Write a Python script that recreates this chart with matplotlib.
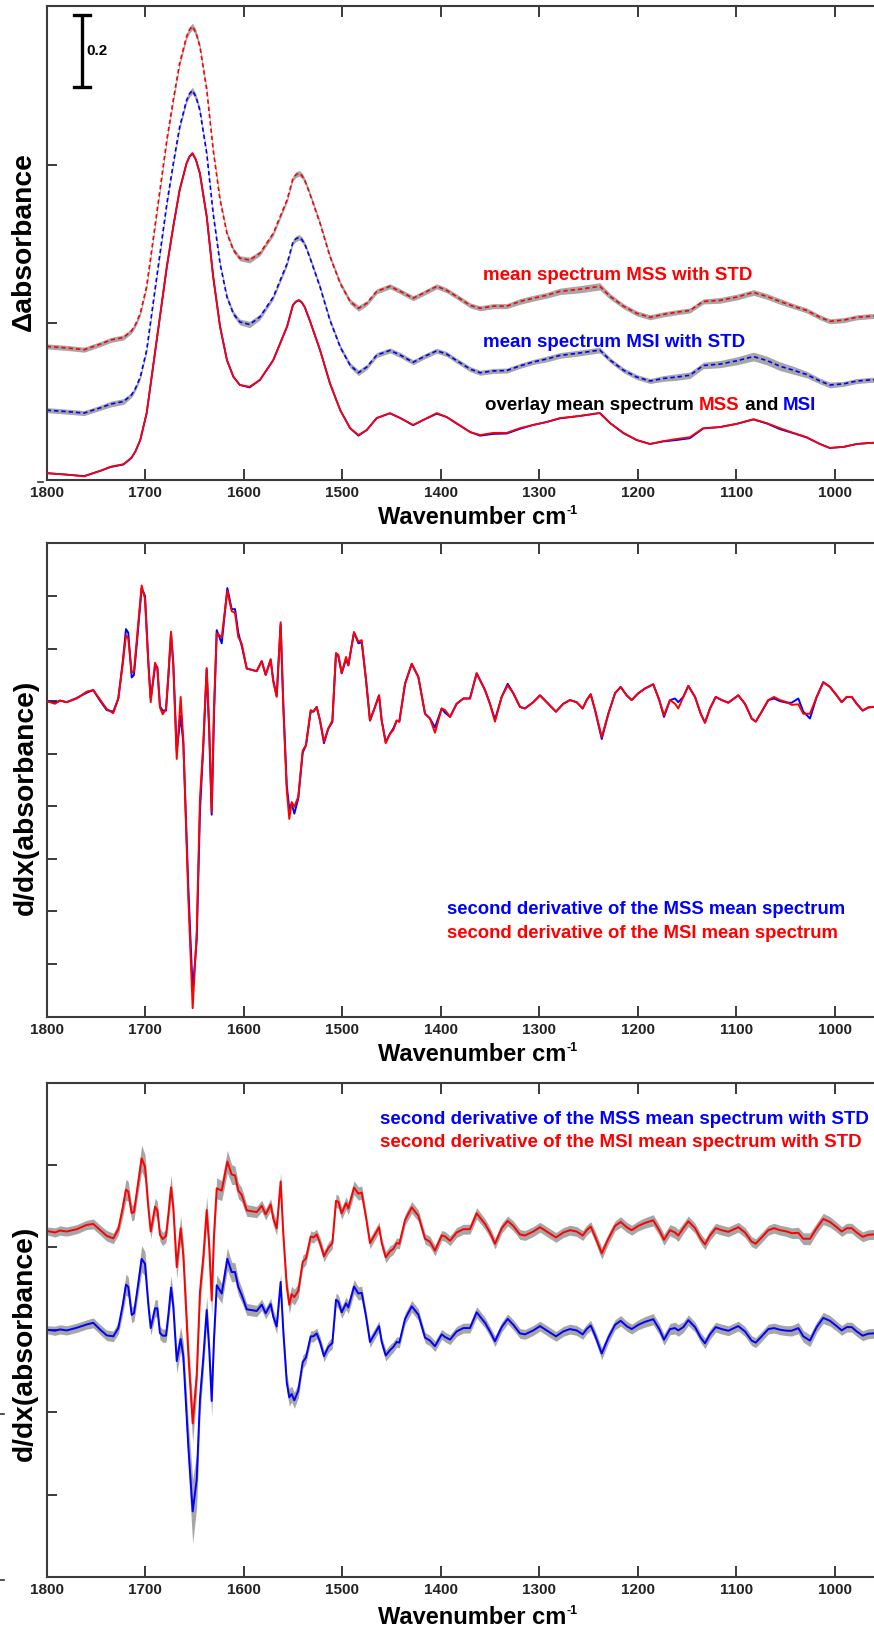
import numpy as np
import matplotlib
matplotlib.use("Agg")
import matplotlib.pyplot as plt
from matplotlib import transforms
from matplotlib.lines import Line2D

plt.rcParams['font.family'] = ['Liberation Sans', 'DejaVu Sans']
plt.rcParams['font.weight'] = 'bold'

# ---------------- data: panel 1 (absorbance) ----------------
wn_abs = [1800, 1780, 1762, 1745, 1735, 1722, 1714, 1710, 1705, 1698.5,
          1692, 1685, 1678, 1671.5, 1665, 1658, 1655, 1652, 1648.5, 1644.5,
          1637.5, 1631, 1624, 1617, 1610.5, 1604, 1594, 1583.5, 1570, 1556,
          1550, 1547, 1544, 1541, 1538, 1533, 1522.5, 1512.5, 1502, 1492,
          1483.5, 1475, 1465, 1451.5, 1441, 1428, 1417.5, 1404, 1394, 1384,
          1370, 1360, 1346.5, 1333, 1319.5, 1306, 1292.5, 1279, 1258.5, 1238.5,
          1228, 1214.5, 1201, 1187.5, 1174, 1160.5, 1147, 1133.5, 1116.5, 1099.5,
          1082.5, 1069, 1055.5, 1042, 1028.5, 1015, 1005, 991, 977.5, 964,
          955]
abs_mss = [0.019, 0.015, 0.010, 0.026, 0.037, 0.044, 0.062, 0.079, 0.111, 0.186,
           0.315, 0.454, 0.593, 0.704, 0.806, 0.880, 0.899, 0.908, 0.890, 0.852,
           0.731, 0.565, 0.426, 0.333, 0.287, 0.264, 0.259, 0.278, 0.333, 0.426,
           0.486, 0.496, 0.500, 0.494, 0.480, 0.444, 0.361, 0.269, 0.194, 0.144,
           0.125, 0.139, 0.172, 0.186, 0.172, 0.153, 0.167, 0.186, 0.175, 0.158,
           0.133, 0.125, 0.131, 0.131, 0.144, 0.153, 0.161, 0.172, 0.178, 0.186,
           0.158, 0.131, 0.111, 0.100, 0.108, 0.114, 0.119, 0.144, 0.147, 0.156,
           0.169, 0.158, 0.144, 0.131, 0.119, 0.100, 0.089, 0.092, 0.100, 0.103,
           0.104]
abs_msi = [0.019, 0.015, 0.011, 0.026, 0.036, 0.043, 0.061, 0.079, 0.111, 0.186,
           0.315, 0.454, 0.593, 0.704, 0.806, 0.880, 0.898, 0.907, 0.889, 0.852,
           0.731, 0.565, 0.426, 0.333, 0.287, 0.264, 0.257, 0.278, 0.333, 0.426,
           0.486, 0.495, 0.499, 0.493, 0.480, 0.444, 0.361, 0.269, 0.194, 0.144,
           0.123, 0.139, 0.172, 0.185, 0.172, 0.152, 0.167, 0.184, 0.175, 0.157,
           0.133, 0.123, 0.128, 0.129, 0.142, 0.153, 0.161, 0.171, 0.178, 0.186,
           0.158, 0.130, 0.111, 0.100, 0.107, 0.111, 0.116, 0.143, 0.147, 0.156,
           0.168, 0.157, 0.141, 0.130, 0.118, 0.100, 0.089, 0.092, 0.100, 0.103,
           0.104]
std_abs_mss = [0.007, 0.007, 0.007, 0.007, 0.007, 0.007, 0.007, 0.007, 0.007, 0.007,
               0.007, 0.007, 0.007, 0.008, 0.008, 0.008, 0.009, 0.009, 0.009, 0.008,
               0.008, 0.007, 0.007, 0.007, 0.007, 0.007, 0.008, 0.007, 0.007, 0.007,
               0.007, 0.008, 0.008, 0.008, 0.007, 0.007, 0.007, 0.007, 0.007, 0.007,
               0.008, 0.007, 0.007, 0.007, 0.007, 0.007, 0.007, 0.007, 0.007, 0.007,
               0.007, 0.007, 0.007, 0.007, 0.008, 0.008, 0.008, 0.009, 0.010, 0.010,
               0.008, 0.007, 0.007, 0.007, 0.007, 0.007, 0.007, 0.007, 0.008, 0.008,
               0.008, 0.008, 0.008, 0.007, 0.007, 0.007, 0.007, 0.007, 0.007, 0.007,
               0.007]
std_abs_msi = [0.007, 0.007, 0.007, 0.007, 0.008, 0.008, 0.007, 0.007, 0.007, 0.007,
               0.007, 0.007, 0.007, 0.007, 0.008, 0.008, 0.009, 0.009, 0.009, 0.008,
               0.008, 0.007, 0.007, 0.007, 0.008, 0.008, 0.009, 0.008, 0.007, 0.007,
               0.007, 0.008, 0.008, 0.008, 0.007, 0.007, 0.007, 0.007, 0.007, 0.007,
               0.008, 0.007, 0.007, 0.007, 0.007, 0.007, 0.007, 0.007, 0.007, 0.007,
               0.007, 0.007, 0.007, 0.007, 0.007, 0.007, 0.008, 0.008, 0.008, 0.008,
               0.007, 0.007, 0.007, 0.007, 0.008, 0.009, 0.009, 0.009, 0.010, 0.011,
               0.012, 0.012, 0.012, 0.011, 0.009, 0.008, 0.008, 0.007, 0.007, 0.007,
               0.007]
offset_mss = 0.352
offset_msi = 0.175

# ---------------- data: second derivative (panels 2 and 3) ----------------
wn_d2 = [1800, 1791.6, 1786.5, 1779.7, 1769.5, 1759.4, 1752.7, 1745.9, 1739.1, 1732.4,
         1727.3, 1722.8, 1719.5, 1717.2, 1713.7, 1711.4, 1708.0, 1703.6, 1700.2, 1696.8,
         1694.4, 1690.0, 1687.7, 1685.0, 1682.2, 1678.9, 1676.5, 1673.8, 1671.5, 1668.0,
         1664.0, 1661.3, 1656.2, 1651.8, 1647.7, 1644.4, 1641.0, 1637.6, 1635.0, 1632.5,
         1630.2, 1627.4, 1622.3, 1616.6, 1612.2, 1608.8, 1605.5, 1602.0, 1596.9, 1586.8,
         1581.7, 1577.7, 1572.6, 1570.0, 1566.5, 1562.5, 1559.8, 1556.3, 1553.7, 1551.3,
         1548.6, 1544.6, 1540.1, 1536.8, 1532.0, 1529.3, 1525.9, 1522.5, 1518.5, 1514.1,
         1510.0, 1506.3, 1503.9, 1500.5, 1496.1, 1493.8, 1488.0, 1483.6, 1480.2, 1475.8,
         1471.8, 1466.7, 1462.6, 1459.9, 1455.8, 1451.5, 1448.1, 1444.7, 1442.0, 1436.2,
         1429.4, 1422.7, 1415.9, 1410.9, 1405.8, 1399.0, 1395.6, 1390.5, 1383.8, 1377.0,
         1370.3, 1363.5, 1355.0, 1350.0, 1344.9, 1338.1, 1332.0, 1326.3, 1319.5, 1314.4,
         1306.0, 1299.2, 1292.4, 1283.0, 1275.5, 1268.8, 1262.0, 1255.8, 1251.8, 1247.7,
         1243.3, 1236.5, 1229.8, 1223.0, 1217.3, 1211.2, 1206.1, 1199.4, 1192.6, 1184.2,
         1178.1, 1173.3, 1167.2, 1162.1, 1158.8, 1153.7, 1148.6, 1141.8, 1136.0, 1131.7,
         1126.6, 1120.8, 1114.7, 1108.0, 1097.9, 1091.1, 1084.3, 1080.2, 1074.1, 1067.4,
         1061.6, 1055.5, 1048.7, 1043.7, 1036.9, 1031.9, 1025.1, 1018.3, 1011.6, 1004.8,
         998.0, 992.9, 987.8, 982.7, 977.7, 971.6, 965.9, 960.8, 955.0]
# red curve: second derivative of the MSI mean spectrum
d2_msi = [0.00, -0.05, 0.01, -0.02, 0.05, 0.18, 0.21, 0.03, -0.15, -0.23,
          0.05, 0.70, 1.25, 1.19, 0.54, 0.57, 1.29, 2.20, 1.94, 0.70,
          -0.02, 0.73, 0.63, -0.12, -0.25, -0.15, 0.50, 1.32, 0.70, -1.10,
          0.08, -0.74, -3.75, -5.84, -4.40, -1.85, -0.80, 0.63, -0.48, -2.11,
          -0.15, 1.29, 1.22, 2.10, 1.71, 1.68, 1.22, 1.09, 0.62, 0.57,
          0.76, 0.50, 0.80, 0.37, 0.08, 1.50, -0.11, -1.69, -2.24, -1.92,
          -2.01, -1.82, -0.94, -0.84, -0.17, -0.20, -0.11, -0.37, -0.77, -0.52,
          -0.37, 0.91, 0.88, 0.53, 0.84, 0.68, 1.31, 1.13, 1.16, 0.40,
          -0.37, -0.11, 0.11, -0.37, -0.80, -0.62, -0.55, -0.37, -0.39, 0.33,
          0.71, 0.46, -0.24, -0.33, -0.60, -0.14, -0.17, -0.30, -0.05, 0.05,
          0.05, 0.53, 0.21, -0.05, -0.39, 0.08, 0.30, 0.15, -0.11, -0.14,
          -0.02, 0.11, -0.02, -0.20, -0.05, 0.02, -0.02, -0.14, 0.02, 0.13,
          -0.17, -0.68, -0.24, 0.15, 0.27, 0.11, 0.02, 0.15, 0.24, 0.32,
          0.02, -0.27, 0.02, -0.05, -0.14, 0.08, 0.29, 0.08, -0.24, -0.41,
          -0.14, 0.08, 0.02, -0.03, 0.11, -0.05, -0.33, -0.39, -0.20, 0.02,
          0.08, 0.02, -0.02, -0.07, -0.06, -0.24, -0.24, 0.08, 0.36, 0.27,
          0.11, -0.02, 0.08, 0.08, -0.05, -0.18, -0.12, -0.11, -0.10]
# blue curve: second derivative of the MSS mean spectrum
d2_mss = [0.00, -0.03, 0.01, -0.02, 0.06, 0.16, 0.21, 0.01, -0.17, -0.20,
          0.05, 0.75, 1.37, 1.30, 0.45, 0.50, 1.20, 2.15, 2.00, 0.75,
          0.05, 0.65, 0.65, -0.10, -0.18, -0.18, 0.45, 1.28, 0.72, -0.95,
          -0.28, -0.80, -3.55, -5.51, -4.55, -2.10, -0.85, 0.60, -0.60, -2.16,
          -0.30, 1.35, 1.10, 2.15, 1.75, 1.75, 1.30, 1.05, 0.62, 0.57,
          0.76, 0.50, 0.78, 0.40, 0.10, 1.45, -0.05, -1.60, -2.05, -1.95,
          -2.14, -1.85, -0.98, -0.84, -0.20, -0.20, -0.11, -0.37, -0.80, -0.52,
          -0.40, 0.91, 0.85, 0.53, 0.80, 0.68, 1.31, 1.10, 1.12, 0.40,
          -0.37, -0.11, 0.11, -0.37, -0.78, -0.62, -0.52, -0.37, -0.39, 0.33,
          0.71, 0.46, -0.24, -0.33, -0.50, -0.14, -0.22, -0.30, -0.05, 0.05,
          0.05, 0.53, 0.21, -0.05, -0.35, 0.08, 0.33, 0.15, -0.11, -0.14,
          -0.02, 0.11, -0.02, -0.20, -0.05, 0.02, -0.02, -0.14, 0.02, 0.13,
          -0.17, -0.72, -0.24, 0.15, 0.27, 0.11, 0.02, 0.15, 0.24, 0.32,
          0.02, -0.30, 0.02, 0.05, -0.02, 0.08, 0.29, 0.08, -0.24, -0.41,
          -0.14, 0.08, 0.02, -0.03, 0.11, -0.05, -0.33, -0.39, -0.20, 0.02,
          0.05, 0.00, -0.03, -0.03, 0.05, -0.20, -0.33, 0.08, 0.36, 0.27,
          0.11, -0.02, 0.08, 0.08, -0.05, -0.18, -0.12, -0.11, -0.10]
std_d2_mss = [0.12, 0.14, 0.14, 0.14, 0.14, 0.14, 0.15, 0.15, 0.16, 0.16,
              0.18, 0.27, 0.32, 0.30, 0.24, 0.24, 0.30, 0.40, 0.37, 0.27,
              0.22, 0.26, 0.26, 0.20, 0.20, 0.20, 0.27, 0.37, 0.32, 0.37,
              0.37, 0.42, 0.72, 0.97, 0.82, 0.52, 0.42, 0.42, 0.42, 0.47,
              0.37, 0.32, 0.30, 0.34, 0.30, 0.28, 0.24, 0.22, 0.18, 0.17,
              0.17, 0.17, 0.18, 0.20, 0.22, 0.27, 0.27, 0.27, 0.27, 0.24,
              0.24, 0.22, 0.20, 0.18, 0.17, 0.17, 0.16, 0.16, 0.17, 0.17,
              0.17, 0.20, 0.20, 0.18, 0.19, 0.19, 0.21, 0.20, 0.20, 0.18,
              0.17, 0.16, 0.16, 0.16, 0.17, 0.17, 0.16, 0.16, 0.16, 0.17,
              0.18, 0.17, 0.16, 0.16, 0.16, 0.15, 0.15, 0.15, 0.15, 0.15,
              0.15, 0.17, 0.16, 0.15, 0.16, 0.15, 0.15, 0.15, 0.15, 0.15,
              0.15, 0.15, 0.15, 0.15, 0.15, 0.15, 0.15, 0.15, 0.15, 0.15,
              0.16, 0.18, 0.16, 0.15, 0.16, 0.15, 0.15, 0.15, 0.16, 0.17,
              0.16, 0.17, 0.17, 0.18, 0.18, 0.16, 0.16, 0.15, 0.15, 0.16,
              0.15, 0.15, 0.15, 0.15, 0.15, 0.15, 0.15, 0.15, 0.15, 0.15,
              0.15, 0.15, 0.15, 0.16, 0.17, 0.18, 0.18, 0.16, 0.17, 0.16,
              0.15, 0.15, 0.15, 0.15, 0.15, 0.15, 0.15, 0.15, 0.15]
std_d2_msi = [0.12, 0.14, 0.14, 0.14, 0.14, 0.14, 0.15, 0.15, 0.16, 0.16,
              0.18, 0.27, 0.32, 0.30, 0.24, 0.24, 0.30, 0.40, 0.37, 0.27,
              0.22, 0.26, 0.26, 0.20, 0.20, 0.20, 0.27, 0.37, 0.32, 0.37,
              0.37, 0.42, 0.52, 0.57, 0.52, 0.42, 0.37, 0.42, 0.42, 0.47,
              0.37, 0.32, 0.30, 0.34, 0.30, 0.28, 0.24, 0.22, 0.18, 0.17,
              0.17, 0.17, 0.18, 0.20, 0.22, 0.27, 0.27, 0.27, 0.27, 0.24,
              0.24, 0.22, 0.20, 0.18, 0.17, 0.17, 0.16, 0.16, 0.17, 0.17,
              0.17, 0.20, 0.20, 0.18, 0.19, 0.19, 0.21, 0.20, 0.20, 0.18,
              0.17, 0.16, 0.16, 0.16, 0.17, 0.17, 0.16, 0.16, 0.16, 0.17,
              0.18, 0.17, 0.16, 0.16, 0.16, 0.15, 0.15, 0.15, 0.15, 0.15,
              0.15, 0.17, 0.16, 0.15, 0.16, 0.15, 0.15, 0.15, 0.15, 0.15,
              0.15, 0.15, 0.15, 0.15, 0.15, 0.15, 0.15, 0.15, 0.15, 0.15,
              0.16, 0.18, 0.16, 0.15, 0.16, 0.15, 0.15, 0.15, 0.16, 0.17,
              0.16, 0.17, 0.17, 0.18, 0.18, 0.16, 0.16, 0.15, 0.15, 0.16,
              0.15, 0.15, 0.15, 0.15, 0.15, 0.15, 0.15, 0.15, 0.15, 0.15,
              0.15, 0.15, 0.15, 0.16, 0.17, 0.18, 0.18, 0.16, 0.17, 0.16,
              0.15, 0.15, 0.15, 0.15, 0.15, 0.15, 0.15, 0.15, 0.15]
offset_d2_msi_panel3 = 3.0

xticks = [1800, 1700, 1600, 1500, 1400, 1300, 1200, 1100, 1000]

# ---------------- styling ----------------
RED = '#ff0000'
BLUE = '#0000ff'
BAND = '#a6a6a6'
AXC = '#3a3a3a'

W, H = 874, 1629
fig = plt.figure(figsize=(W / 100, H / 100), dpi=100)

x_left, x_right = 1800, 925
ax_left_px = 46.7
px_per_wn = 0.985
ax_right_px = ax_left_px + (x_left - x_right) * px_per_wn


def box(left_px, top_px, right_px, bottom_px):
    return [left_px / W, 1 - bottom_px / H, (right_px - left_px) / W, (bottom_px - top_px) / H]


def fxy(px, py):
    return px / W, 1 - py / H


ax1 = fig.add_axes(box(ax_left_px, 6, ax_right_px, 480))
ax2 = fig.add_axes(box(ax_left_px, 543.4, ax_right_px, 1016.6))
ax3 = fig.add_axes(box(ax_left_px, 1082.5, ax_right_px, 1577))


def style(ax):
    ax.set_xlim(x_left, x_right)
    ax.set_xticks(xticks)
    ax.set_xticklabels([str(t) for t in xticks], fontsize=11, fontweight='bold', color='#222222')
    ax.tick_params(axis='x', direction='in', top=True, bottom=True, length=8, width=1.4,
                   color=AXC, pad=4.5)
    ax.tick_params(axis='y', direction='in', left=True, right=False, length=7, width=1.4,
                   color=AXC, labelleft=False)
    for s in ['left', 'top', 'bottom']:
        ax.spines[s].set_color(AXC)
        ax.spines[s].set_linewidth(1.5)
    ax.spines['right'].set_visible(False)


def rainbow(x, y, parts, **kw):
    renderer = fig.canvas.get_renderer()
    tr = fig.transFigure
    for s, c, fs, dy in parts:
        t = fig.text(x, y, s, color=c, fontsize=fs, transform=transforms.offset_copy(tr, y=dy, units='dots'),
                     ha='left', va='baseline', fontweight='bold', **kw)
        ex = t.get_window_extent(renderer=renderer)
        tr = transforms.offset_copy(tr, x=ex.width, units='dots')


# ---------------- panel 1 ----------------
wa = np.array(wn_abs)
mss = np.array(abs_mss)
msi = np.array(abs_msi)
smss = np.array(std_abs_mss)
smsi = np.array(std_abs_msi)

ax1.fill_between(wa, mss + offset_mss - smss, mss + offset_mss + smss, color=BAND, lw=0, zorder=1)
ax1.plot(wa, mss + offset_mss, color=RED, lw=1.2, dashes=(2.6, 1.8), zorder=2)
ax1.fill_between(wa, msi + offset_msi - smsi, msi + offset_msi + smsi, color=BAND, lw=0, zorder=1)
ax1.plot(wa, msi + offset_msi, color=BLUE, lw=1.2, dashes=(2.6, 1.8), zorder=2)
ax1.plot(wa, msi, color=BLUE, lw=1.3, zorder=2)
ax1.plot(wa, mss, color=RED, lw=1.3, zorder=3)
ax1.set_ylim(0, 1.3167)
ax1.set_yticks([0, 0.4375, 0.875])
style(ax1)

# scale bar (0.2 absorbance units)
bar_wn, bar_low, bar_h, cap = 1764.2, 1.092, 0.2, 8.5
ax1.plot([bar_wn, bar_wn], [bar_low, bar_low + bar_h], color='black', lw=2.4, solid_capstyle='butt')
ax1.plot([bar_wn - cap, bar_wn + cap], [bar_low, bar_low], color='black', lw=2.4)
ax1.plot([bar_wn - cap, bar_wn + cap], [bar_low + bar_h, bar_low + bar_h], color='black', lw=2.4)
ax1.text(bar_wn - 4, bar_low + bar_h / 2, '0.2', fontsize=11, fontweight='bold', ha='left', va='center')

fig.text(*fxy(482.7, 280), 'mean spectrum MSS with STD', color=RED, fontsize=13.5,
         fontweight='bold', ha='left', va='baseline')
fig.text(*fxy(482.7, 346.7), 'mean spectrum MSI with STD', color=BLUE, fontsize=13.5,
         fontweight='bold', ha='left', va='baseline')
rainbow(*fxy(485, 409.5), [('overlay mean spectrum ', 'black', 13.5, 0), ('MSS', RED, 13.5, 0),
                           (' and ', 'black', 13.5, 0), ('MSI', BLUE, 13.5, 0)])

# ---------------- panel 2 ----------------
wd = np.array(wn_d2)
d_mss = np.array(d2_mss)
d_msi = np.array(d2_msi)
ax2.plot(wd, d_mss, color=BLUE, lw=1.4, zorder=2)
ax2.plot(wd, d_msi, color=RED, lw=1.4, zorder=3)
ax2.set_ylim(-6, 3)
ax2.set_yticks(np.arange(-6, 4, 1))
style(ax2)

fig.text(*fxy(446.7, 914), 'second derivative of the MSS mean spectrum', color=BLUE, fontsize=13.3,
         fontweight='bold', ha='left', va='baseline')
fig.text(*fxy(446.7, 937.5), 'second derivative of the MSI mean spectrum', color=RED, fontsize=13.3,
         fontweight='bold', ha='left', va='baseline')

# ---------------- panel 3 ----------------
s_mss = np.array(std_d2_mss)
s_msi = np.array(std_d2_msi)
r3 = d_msi + offset_d2_msi_panel3
ax3.fill_between(wd, r3 - s_msi, r3 + s_msi, color=BAND, lw=0, zorder=1)
ax3.fill_between(wd, d_mss - s_mss, d_mss + s_mss, color=BAND, lw=0, zorder=1)
ax3.plot(wd, r3, color=RED, lw=1.4, zorder=2)
ax3.plot(wd, d_mss, color=BLUE, lw=1.4, zorder=2)
ax3.set_ylim(-7.5, 7.5)
ax3.set_yticks(np.arange(-7.5, 7.6, 2.5))
style(ax3)

fig.text(*fxy(380.5, 1123.7), 'second derivative of the MSS mean spectrum with STD', color=BLUE,
         fontsize=13.5, fontweight='bold', ha='left', va='baseline')
fig.text(*fxy(380.5, 1146.7), 'second derivative of the MSI mean spectrum with STD', color=RED,
         fontsize=13.5, fontweight='bold', ha='left', va='baseline')

# ---------------- axis labels ----------------
fig.text(*fxy(24, 242), '\u0394absorbance', rotation=90, fontsize=20.3, fontweight='bold',
         ha='center', va='center')
fig.text(*fxy(26, 797), 'd/dx(absorbance)', rotation=90, fontsize=20.3, fontweight='bold',
         ha='center', va='center')
fig.text(*fxy(25, 1343), 'd/dx(absorbance)', rotation=90, fontsize=20.3, fontweight='bold',
         ha='center', va='center')

for base in (524, 1061, 1624):
    rainbow(*fxy(378, base), [('Wavenumber cm', 'black', 17, 0), ('-1', 'black', 9, 10)])

# small stray marks at the left margin, as in the original figure
for (x0, x1, yy) in [(38, 43, 482), (0, 4, 1414), (0, 4, 1580)]:
    fig.add_artist(Line2D([x0 / W, x1 / W], [1 - yy / H, 1 - yy / H], transform=fig.transFigure,
                          color='#333333', lw=1.2))

fig.savefig('out.png', dpi=100)
